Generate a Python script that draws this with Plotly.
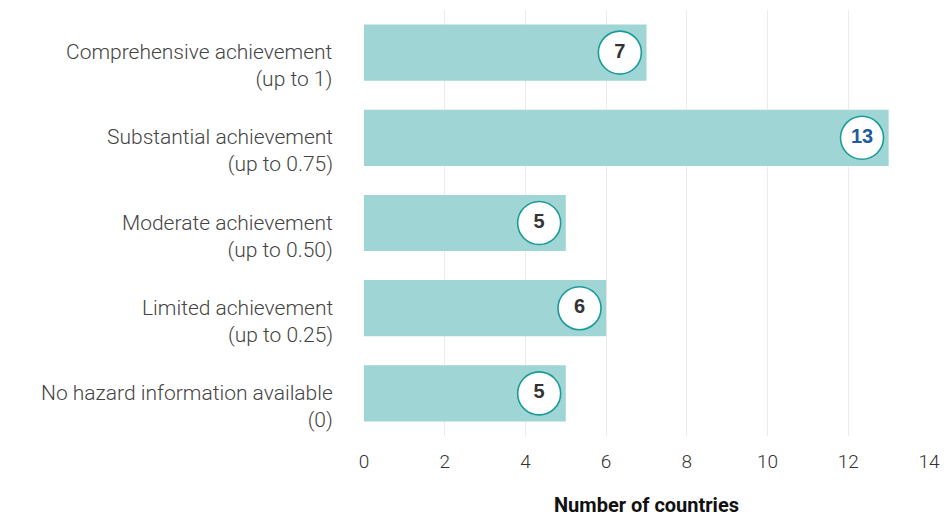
import plotly.graph_objects as go

# Achievement levels (top to bottom) and number of countries in each
levels = [
    "Comprehensive achievement<br>(up to 1)",
    "Substantial achievement<br>(up to 0.75)",
    "Moderate achievement<br>(up to 0.50)",
    "Limited achievement<br>(up to 0.25)",
    "No hazard information available<br>(0)",
]
countries = [7, 13, 5, 6, 5]
highlight = [False, True, False, False, False]
x_ticks = [0, 2, 4, 6, 8, 10, 12, 14]

BAR = "#9fd5d4"
RING = "#1a9c98"
TXT = "#333333"
HIGHLIGHT_TXT = "#1f5c99"
LIGHT_FONT = "Roboto"

# badge sits just inside the end of each bar
badge_inset = 0.66
badge_x = [v - badge_inset for v in countries]
badge_colors = [HIGHLIGHT_TXT if h else TXT for h in highlight]

fig = go.Figure()
fig.add_trace(go.Bar(
    x=countries, y=levels, orientation="h",
    marker=dict(color=BAR, line=dict(width=0)),
    hoverinfo="skip",
))
fig.add_trace(go.Scatter(
    x=badge_x, y=levels, mode="markers+text",
    marker=dict(size=43, color="white", line=dict(color=RING, width=1.6)),
    text=[str(v) for v in countries],
    textposition="middle center",
    textfont=dict(family="Liberation Sans", size=20, color=badge_colors, weight="bold"),
    hoverinfo="skip",
))

# category labels, right-aligned beside the bars
for lab in levels:
    fig.add_annotation(
        x=0, xref="paper", xanchor="right", xshift=-29,
        y=lab, yref="y", yanchor="middle", yshift=-13,
        text=lab, showarrow=False, align="right",
        font=dict(family=LIGHT_FONT, size=21, color="#444444", weight=300),
    )

# axis title
fig.add_annotation(
    x=0.5, xref="paper", xanchor="center",
    y=-0.161, yref="paper", yanchor="middle",
    text="<b>Number of countries</b>", showarrow=False,
    font=dict(family="Roboto", size=20, color="#111111"),
)

fig.update_layout(
    width=948, height=517,
    margin=dict(l=364, r=19, t=10, b=81, autoexpand=False),
    paper_bgcolor="white", plot_bgcolor="white",
    showlegend=False, bargap=0.34,
    xaxis=dict(
        range=[0, 14], tickvals=x_ticks, ticktext=[str(t) for t in x_ticks],
        showgrid=True, gridcolor="#ebebeb", gridwidth=1,
        zeroline=False, showline=False, ticks="", automargin=False,
        ticklabelstandoff=12,
        tickfont=dict(family=LIGHT_FONT, size=19, color=TXT, weight=300),
    ),
    yaxis=dict(
        categoryorder="array", categoryarray=levels[::-1], automargin=False,
        range=[-0.5, len(levels) - 0.5],
        showticklabels=False, showgrid=False, zeroline=False, ticks="",
    ),
)

fig.write_html("out.html")
